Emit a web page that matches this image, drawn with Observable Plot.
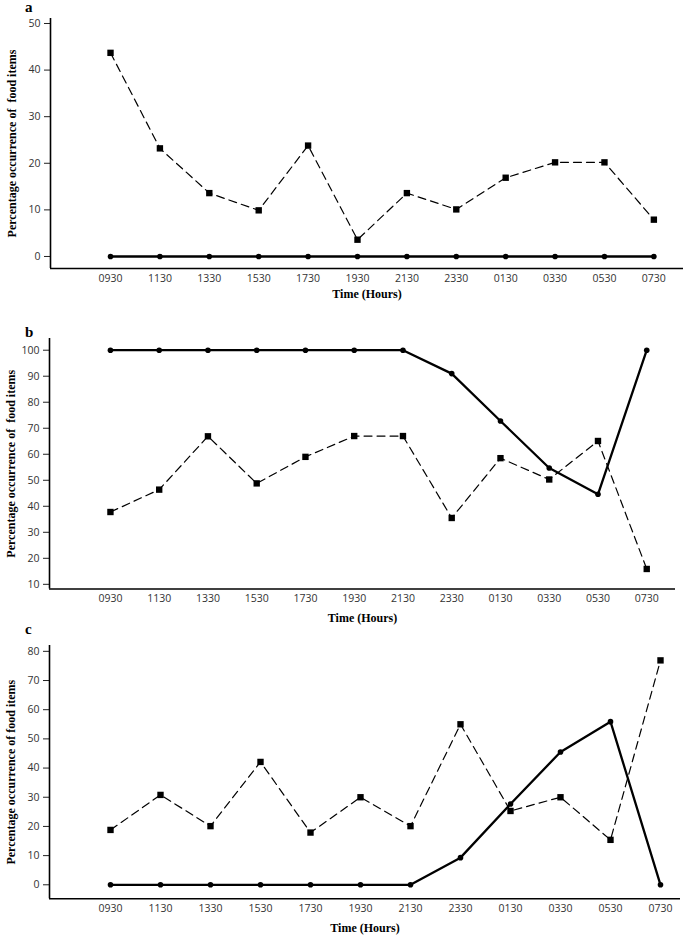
<!DOCTYPE html>
<html><head><meta charset="utf-8">
<script src="https://cdn.jsdelivr.net/npm/d3@7"></script>
<script src="https://cdn.jsdelivr.net/npm/@observablehq/plot@0.6"></script>
<style>
body{margin:0;background:#fff;}
#wrap{position:relative;width:685px;height:940px;background:#fff;overflow:hidden;}
.panel{position:absolute;left:0;}
.lab{position:absolute;font:bold 15px "Liberation Serif",serif;color:#000;line-height:1;}
svg{white-space:pre;}
</style></head><body><div id="wrap"></div>
<script>
const times = ["0930","1130","1330","1530","1730","1930","2130","2330","0130","0330","0530","0730"];

const aSquares = [43.7, 23.2, 13.6, 9.9, 23.8, 3.6, 13.6, 10.1, 16.9, 20.2, 20.2, 7.9];
const aCircles = [0, 0, 0, 0, 0, 0, 0, 0, 0, 0, 0, 0];
const aTicks = [0, 10, 20, 30, 40, 50];

const bSquares = [37.8, 46.4, 66.9, 48.8, 59.0, 67.0, 67.0, 35.5, 58.5, 50.3, 65.1, 15.9];
const bCircles = [100, 100, 100, 100, 100, 100, 100, 91.0, 72.8, 54.7, 44.6, 100];
const bTicks = [10, 20, 30, 40, 50, 60, 70, 80, 90, 100];

const cSquares = [18.8, 30.8, 20.1, 42.1, 17.9, 30.0, 20.1, 55.0, 25.3, 30.0, 15.4, 76.9];
const cCircles = [0, 0, 0, 0, 0, 0, 0, 9.3, 27.7, 45.5, 55.9, 0];
const cTicks = [0, 10, 20, 30, 40, 50, 60, 70, 80];

const panelLetters = ["a", "b", "c"];
const yLabels = ["Percentage occurrence of  food items", "Percentage occurrence of  food items", "Percentage occurrence of food items"];
const xLabel = "Time (Hours)";

const panels = [
  {letter: panelLetters[0], top: 0, height: 305, mt: 18, mb: 37, ml: 50, mr: 2,
   xDomain: [-1.215, 11.6], yDomain: [-2.58, 51.07], ticks: aTicks,
   squares: aSquares, circles: aCircles, ylabel: yLabels[0],
   xlabDy: 29, letterTop: 0},
  {letter: panelLetters[1], top: 320, height: 310, mt: 18, mb: 41.5, ml: 49, mr: 10,
   xDomain: [-1.25, 11.59], yDomain: [8.2, 104.5], ticks: bTicks,
   squares: bSquares, circles: bCircles, ylabel: yLabels[1],
   xlabDy: 33, letterTop: 325},
  {letter: panelLetters[2], top: 627, height: 313, mt: 18, mb: 41.7, ml: 49, mr: 5,
   xDomain: [-1.22, 11.4], yDomain: [-4.8, 82], ticks: cTicks,
   squares: cSquares, circles: cCircles, ylabel: yLabels[2],
   xlabDy: 33.4, letterTop: 622}
];

const wrap = document.getElementById("wrap");
const serif = '"Liberation Serif", "Times New Roman", serif';

for (const p of panels) {
  const sq = times.map((t, i) => ({i, t, v: p.squares[i]}));
  const ci = times.map((t, i) => ({i, t, v: p.circles[i]}));
  const chart = Plot.plot({
    width: 685,
    height: p.height,
    marginTop: p.mt, marginBottom: p.mb, marginLeft: p.ml, marginRight: p.mr,
    style: {fontFamily: '"Open Sans", sans-serif', fontSize: "10.5px", background: "#fff", color: "#333"},
    x: {type: "linear", domain: p.xDomain, label: null},
    y: {type: "linear", domain: p.yDomain, label: null},
    marks: [
      Plot.axisY({ticks: p.ticks, tickSize: 6, tickPadding: 4, label: null, stroke: "#222", strokeWidth: 1, fill: "#333", fontSize: 10.5}),
      Plot.axisX({ticks: d3.range(times.length), tickFormat: i => times[i], tickSize: 0, tickPadding: 6, label: null, fill: "#333", fontSize: 10.5}),
      Plot.ruleX([p.xDomain[0]], {stroke: "#000", strokeWidth: 1.6}),
      Plot.ruleY([p.yDomain[0]], {stroke: "#000", strokeWidth: 1.6}),
      Plot.line(sq, {x: "i", y: "v", stroke: "#000", strokeWidth: 1.2, strokeDasharray: "8,5"}),
      Plot.line(ci, {x: "i", y: "v", stroke: "#000", strokeWidth: 2.3}),
      Plot.dot(sq, {x: "i", y: "v", symbol: "square", r: 3.6, fill: "#000", stroke: null}),
      Plot.dot(ci, {x: "i", y: "v", r: 2.8, fill: "#000", stroke: null}),
      Plot.text([xLabel], {text: d => d, frameAnchor: "bottom", dy: p.xlabDy, fontFamily: serif, fontWeight: "bold", fontSize: 12, fill: "#000"}),
      Plot.text([p.ylabel], {text: d => d, frameAnchor: "left", textAnchor: "middle", dx: -38, rotate: -90, fontFamily: serif, fontWeight: "bold", fontSize: 12, fill: "#000"})
    ]
  });
  const div = document.createElement("div");
  div.className = "panel";
  div.style.top = p.top + "px";
  div.appendChild(chart);
  wrap.appendChild(div);
  const lab = document.createElement("div");
  lab.className = "lab";
  lab.style.left = "25px";
  lab.style.top = p.letterTop + "px";
  lab.textContent = p.letter;
  wrap.appendChild(lab);
}
</script>
</body></html>
